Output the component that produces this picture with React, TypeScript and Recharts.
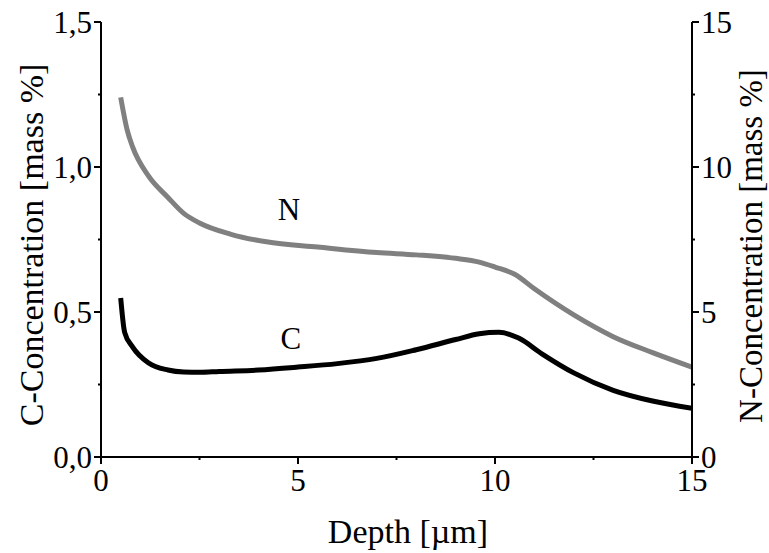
import { LineChart, Line, XAxis, YAxis, ReferenceDot, Label } from "recharts";

const cDepth = [0.5, 0.6, 0.8, 1.2, 1.7, 2.1, 2.5, 3, 4, 5, 6, 7, 8, 9, 9.6, 10.1, 10.6, 11.2, 12, 13, 14, 15];
const cValues = [0.548, 0.43, 0.38, 0.325, 0.3, 0.293, 0.292, 0.295, 0.3, 0.31, 0.322, 0.34, 0.37, 0.405, 0.425, 0.43, 0.41, 0.355, 0.29, 0.23, 0.193, 0.168];

const nDepth = [0.5, 0.66, 0.8, 1.2, 1.7, 2.1, 2.5, 3.3, 4.2, 5.5, 7, 8, 9, 9.6, 10, 10.5, 11, 12, 13, 14, 15];
const nValues = [12.4, 11.3, 10.7, 9.7, 8.95, 8.4, 8.07, 7.68, 7.42, 7.24, 7.05, 6.97, 6.85, 6.72, 6.55, 6.3, 5.8, 4.9, 4.15, 3.6, 3.1];

const xTicks = [0, 2.5, 5, 7.5, 10, 12.5, 15];
const cTicks = [0, 0.25, 0.5, 0.75, 1, 1.25, 1.5];
const nTicks = [0, 2.5, 5, 7.5, 10, 12.5, 15];

const cData = cDepth.map((d, i) => ({ depth: d, c: cValues[i] }));
const nData = nDepth.map((d, i) => ({ depth: d, n: nValues[i] }));

const FONT = "Liberation Serif, DejaVu Serif, serif";
const TICK_FS = 31;
const textStyle = { fontFamily: FONT };

const isMajor = (v: number, step: number) => Math.abs(v / step - Math.round(v / step)) < 1e-6;

const LeftTick = (props: any) => {
  const { x, y, payload } = props;
  const major = isMajor(payload.value, 0.5);
  return (
    <g>
      <line x1={x} x2={x - (major ? 7 : 3)} y1={y} y2={y} stroke="#000" strokeWidth={2} />
      {major && (
        <text x={x - 9} y={y} textAnchor="end" dominantBaseline="central" style={textStyle} fontSize={TICK_FS} fill="#000">
          {payload.value.toFixed(1).replace(".", ",")}
        </text>
      )}
    </g>
  );
};

const RightTick = (props: any) => {
  const { x, y, payload } = props;
  const major = isMajor(payload.value, 5);
  return (
    <g>
      <line x1={x} x2={x + (major ? 7 : 3)} y1={y} y2={y} stroke="#000" strokeWidth={2} />
      {major && (
        <text x={x + 9} y={y} textAnchor="start" dominantBaseline="central" style={textStyle} fontSize={TICK_FS} fill="#000">
          {payload.value}
        </text>
      )}
    </g>
  );
};

const BottomTick = (props: any) => {
  const { x, y, payload } = props;
  const major = isMajor(payload.value, 5);
  return (
    <g>
      <line x1={x} x2={x} y1={y} y2={y + (major ? 7 : 3)} stroke="#000" strokeWidth={2} />
      {major && (
        <text x={x} y={y + 34} textAnchor="middle" style={textStyle} fontSize={TICK_FS} fill="#000">
          {payload.value}
        </text>
      )}
    </g>
  );
};

const curveLabel = (text: string) => (props: any) => {
  const { viewBox } = props;
  const cx = viewBox.x + (viewBox.width || 0) / 2;
  const cy = viewBox.y + (viewBox.height || 0) / 2;
  return (
    <text x={cx} y={cy} textAnchor="middle" dominantBaseline="central" style={textStyle} fontSize={31} fill="#000">
      {text}
    </text>
  );
};

export default function App() {
  return (
    <div style={{ position: "absolute", left: 0, top: 0, background: "#fff" }}>
      <LineChart width={769} height={553} margin={{ top: 22, right: 0, left: 0, bottom: 0 }}>
        <XAxis
          dataKey="depth"
          type="number"
          domain={[0, 15]}
          ticks={xTicks}
          allowDataOverflow
          height={96}
          tickSize={0}
          tickMargin={0}
          tick={<BottomTick />}
          axisLine={{ stroke: "#000", strokeWidth: 2 }}
          interval={0}
        >
          <Label
            content={() => (
              <text x={408} y={543} textAnchor="middle" style={textStyle} fontSize={34} fill="#000">
                Depth [µm]
              </text>
            )}
          />
        </XAxis>
        <YAxis
          yAxisId="left"
          domain={[0, 1.5]}
          ticks={cTicks}
          width={101}
          tickSize={0}
          tickMargin={0}
          tick={<LeftTick />}
          axisLine={{ stroke: "#000", strokeWidth: 2 }}
          interval={0}
        >
          <Label
            content={() => (
              <text
                x={31}
                y={245}
                transform="rotate(-90 31 245)"
                textAnchor="middle"
                dominantBaseline="central"
                style={textStyle}
                fontSize={34}
                fill="#000"
              >
                C-Concentration [mass %]
              </text>
            )}
          />
        </YAxis>
        <YAxis
          yAxisId="right"
          orientation="right"
          domain={[0, 15]}
          ticks={nTicks}
          width={77}
          tickSize={0}
          tickMargin={0}
          tick={<RightTick />}
          axisLine={{ stroke: "#000", strokeWidth: 2 }}
          interval={0}
        >
          <Label
            content={() => (
              <text
                x={751}
                y={246}
                transform="rotate(-90 751 246)"
                textAnchor="middle"
                dominantBaseline="central"
                style={textStyle}
                fontSize={33}
                fill="#000"
              >
                N-Concentration [mass %]
              </text>
            )}
          />
        </YAxis>
        <Line
          yAxisId="right"
          data={nData}
          dataKey="n"
          type="monotone"
          stroke="#808080"
          strokeWidth={5}
          dot={false}
          isAnimationActive={false}
        />
        <Line
          yAxisId="left"
          data={cData}
          dataKey="c"
          type="monotone"
          stroke="#000"
          strokeWidth={5}
          dot={false}
          isAnimationActive={false}
        />
        <ReferenceDot yAxisId="left" x={4.77} y={0.855} r={0} fill="none" stroke="none" label={curveLabel("N")} />
        <ReferenceDot yAxisId="left" x={4.82} y={0.41} r={0} fill="none" stroke="none" label={curveLabel("C")} />
      </LineChart>
    </div>
  );
}
